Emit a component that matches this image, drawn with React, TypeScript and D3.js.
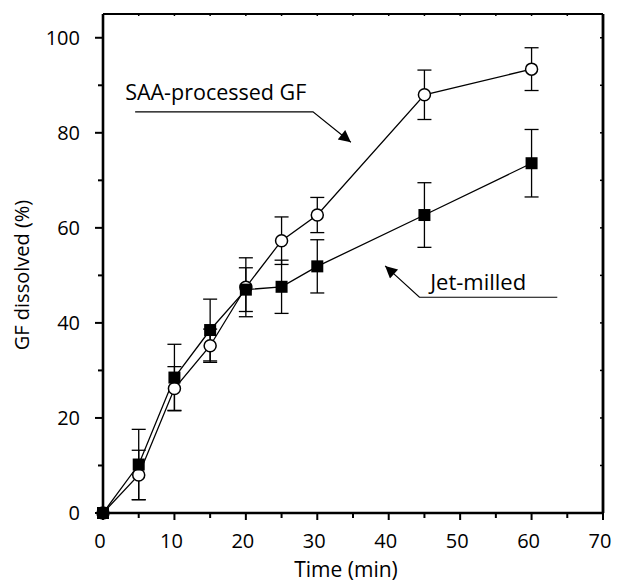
import React from 'react';
import * as d3 from 'd3';

// time points (min)
const times = [0, 5, 10, 15, 20, 25, 30, 45, 60];
// SAA-processed GF (open circles)
const saaMean = [0, 8.0, 26.2, 35.2, 47.5, 57.3, 62.7, 88.0, 93.4];
const saaErr = [0, 5.2, 4.6, 3.5, 6.2, 5.0, 3.7, 5.2, 4.5];
// Jet-milled (filled squares)
const jetMean = [0, 10.2, 28.5, 38.5, 47.0, 47.6, 51.9, 62.7, 73.6];
const jetErr = [0, 7.4, 7.0, 6.5, 4.6, 5.6, 5.6, 6.8, 7.1];

const xTicks = [0, 10, 20, 30, 40, 50, 60, 70];
const xMinor = [5, 15, 25, 35, 45, 55, 65];
const yTicks = [0, 20, 40, 60, 80, 100];
const yMinor = [10, 30, 50, 70, 90];

// leader lines for the labels, in data units
const saaLeader: [number, number][] = [[4.5, 84.4], [29.4, 84.4], [34.7, 78.0]];
const jetLeader: [number, number][] = [[63.6, 45.4], [44.3, 45.4], [39.5, 52.0]];

const W = 617;
const H = 582;
const margin = { top: 14, right: 14, bottom: 69, left: 103 };
const font = '"Open Sans", "Noto Sans", sans-serif';

export default function App() {
  const x = d3.scaleLinear().domain([0, 70]).range([margin.left, W - margin.right]);
  const y = d3.scaleLinear().domain([0, 105]).range([H - margin.bottom, margin.top]);
  const line = d3.line<number>().x((_, i) => x(times[i])).y(d => y(d));
  const leader = d3.line<[number, number]>().x(d => x(d[0])).y(d => y(d[1]));

  const x0 = x(0), x1 = x(70), y0 = y(0), y1 = y(105);
  const cap = 7;

  const errBars = (mean: number[], err: number[], key: string) =>
    times.map((t, i) => err[i] > 0 && (
      <g key={key + i} stroke="#000" strokeWidth={1.3}>
        <line x1={x(t)} x2={x(t)} y1={y(mean[i] - err[i])} y2={y(mean[i] + err[i])} />
        <line x1={x(t) - cap} x2={x(t) + cap} y1={y(mean[i] - err[i])} y2={y(mean[i] - err[i])} />
        <line x1={x(t) - cap} x2={x(t) + cap} y1={y(mean[i] + err[i])} y2={y(mean[i] + err[i])} />
      </g>
    ));

  return (
    <svg width={W} height={H} style={{ position: 'absolute', left: 0, top: 0, background: '#fff' }}
      fontFamily={font} fill="#000">
      <defs>
        <marker id="arrow" viewBox="0 0 10 10" refX="10" refY="5" markerWidth="15" markerHeight="12"
          markerUnits="userSpaceOnUse" orient="auto">
          <path d="M0,0 L10,5 L0,10 z" fill="#000" />
        </marker>
      </defs>

      {/* frame */}
      <line x1={x0} x2={x1} y1={y1} y2={y1} stroke="#000" strokeWidth={1.8} />
      <line x1={x1} x2={x1} y1={y1} y2={y0} stroke="#000" strokeWidth={2.8} />

      {/* ticks */}
      {xTicks.map(t => (
        <g key={'xt' + t}>
          <line x1={x(t)} x2={x(t)} y1={y0} y2={y0 + 7} stroke="#000" strokeWidth={2} />
          <line x1={x(t)} x2={x(t)} y1={y1} y2={y1 + 2} stroke="#000" strokeWidth={1.5} />
          <text x={x(t) - 3} y={y0 + 35} fontSize={20} textAnchor="middle">{t}</text>
        </g>
      ))}
      {xMinor.map(t => (
        <g key={'xm' + t}>
          <line x1={x(t)} x2={x(t)} y1={y0} y2={y0 + 5} stroke="#000" strokeWidth={2} />
          <line x1={x(t)} x2={x(t)} y1={y1} y2={y1 + 2} stroke="#000" strokeWidth={1.5} />
        </g>
      ))}
      {yTicks.map(t => (
        <g key={'yt' + t}>
          <line x1={x0 - 8} x2={x0} y1={y(t)} y2={y(t)} stroke="#000" strokeWidth={2} />
          <line x1={x1 - 3} x2={x1} y1={y(t)} y2={y(t)} stroke="#000" strokeWidth={1.5} />
          <text x={x0 - 23} y={y(t)} dy="0.36em" fontSize={20} textAnchor="end">{t}</text>
        </g>
      ))}
      {yMinor.map(t => (
        <g key={'ym' + t}>
          <line x1={x0 - 5} x2={x0} y1={y(t)} y2={y(t)} stroke="#000" strokeWidth={2} />
          <line x1={x1 - 3} x2={x1} y1={y(t)} y2={y(t)} stroke="#000" strokeWidth={1.5} />
        </g>
      ))}

      {/* axis titles */}
      <text x={346} y={H - 5} fontSize={21} textAnchor="middle">Time (min)</text>
      <text transform={`translate(29,275) rotate(-90)`} fontSize={20} textAnchor="middle">
        GF dissolved (%)
      </text>

      {/* series lines */}
      <path d={line(saaMean) ?? ''} fill="none" stroke="#000" strokeWidth={1.3} />
      <path d={line(jetMean) ?? ''} fill="none" stroke="#000" strokeWidth={1.3} />

      {errBars(saaMean, saaErr, 's')}
      {errBars(jetMean, jetErr, 'j')}

      {/* markers */}
      {times.map((t, i) => (
        <circle key={'c' + i} cx={x(t)} cy={y(saaMean[i])} r={6} fill="#fff" stroke="#000" strokeWidth={1.5} />
      ))}
      {times.map((t, i) => (
        <rect key={'r' + i} x={x(t) - 6} y={y(jetMean[i]) - 6} width={12} height={12} fill="#000" />
      ))}

      {/* left and bottom axes on top */}
      <line x1={x0} x2={x0} y1={y1} y2={y0 + 1} stroke="#000" strokeWidth={2.6} />
      <line x1={x0 - 1} x2={x1 + 1} y1={y0} y2={y0} stroke="#000" strokeWidth={2.6} />

      {/* annotations */}
      <path d={leader(saaLeader) ?? ''} fill="none" stroke="#000" strokeWidth={1.2} markerEnd="url(#arrow)" />
      <text x={x(3.1)} y={y(86.9)} fontSize={21.5}>SAA-processed GF</text>
      <path d={leader(jetLeader) ?? ''} fill="none" stroke="#000" strokeWidth={1.2} markerEnd="url(#arrow)" />
      <text x={x(45.8)} y={y(46.9)} fontSize={22}>Jet-milled</text>
    </svg>
  );
}
